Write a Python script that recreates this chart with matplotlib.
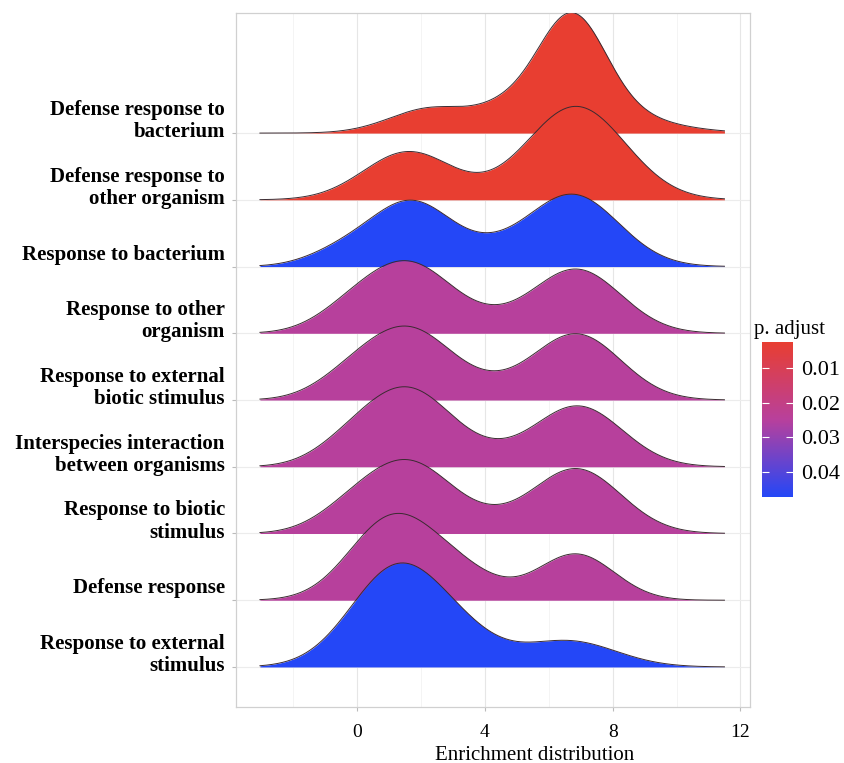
import numpy as np
import matplotlib
matplotlib.use("Agg")
from matplotlib import pyplot as plt
from matplotlib.colors import LinearSegmentedColormap, Normalize
from matplotlib.colorbar import ColorbarBase

# GO terms, top to bottom
terms = ["Defense response to\nbacterium",
         "Defense response to\nother organism",
         "Response to bacterium",
         "Response to other\norganism",
         "Response to external\nbiotic stimulus",
         "Interspecies interaction\nbetween organisms",
         "Response to biotic\nstimulus",
         "Defense response",
         "Response to external\nstimulus"]

p_adjust = [0.0025, 0.0025, 0.0472, 0.025, 0.025, 0.025, 0.025, 0.025, 0.0472]

# ridge shapes, as bumps (centre, height, width) per term
bumps = [
    [(2.3, 0.36, 1.3), (4.6, 0.18, 0.9), (6.7, 1.42, 1.05), (7.1, 0.38, 2.0)],
    [(1.6, 0.72, 1.4), (6.85, 1.40, 1.55)],
    [(-0.5, 0.20, 1.1), (1.72, 0.96, 1.3), (4.2, 0.12, 1.0), (6.73, 1.08, 1.45)],
    [(-0.3, 0.23, 1.1), (1.63, 1.03, 1.4), (4.2, 0.08, 1.0), (6.85, 0.96, 1.4)],
    [(-0.3, 0.23, 1.1), (1.63, 1.05, 1.4), (4.2, 0.08, 1.0), (6.85, 0.99, 1.4)],
    [(-0.3, 0.23, 1.1), (1.62, 1.14, 1.4), (4.2, 0.08, 1.0), (6.9, 0.91, 1.4)],
    [(-0.3, 0.23, 1.1), (1.63, 1.05, 1.4), (4.2, 0.08, 1.0), (6.85, 0.97, 1.4)],
    [(1.0, 1.14, 1.3), (3.0, 0.45, 1.3), (6.85, 0.69, 1.2)],
    [(1.25, 1.48, 1.45), (3.3, 0.30, 1.2), (6.6, 0.39, 1.5)],
]

x_ticks = [0, 4, 8, 12]
cbar_ticks = [0.01, 0.02, 0.03, 0.04]

serif = ["Liberation Serif", "DejaVu Serif"]

cmap = LinearSegmentedColormap.from_list("padj", ["#E83E31", "#B8409C", "#2447F7"])
norm = Normalize(vmin=min(p_adjust), vmax=max(p_adjust))

fig = plt.figure(figsize=(8.44, 7.63), dpi=100)
ax = fig.add_axes([0.2796, 0.0734, 0.609, 0.9096])

xs = np.linspace(-3.05, 11.5, 500)
n = len(terms)
for i in range(n):
    base = n - i
    y = np.zeros_like(xs)
    for c, h, w in bumps[i]:
        y += h * np.exp(-(xs - c) ** 2 / (2 * w ** 2))
    col = cmap(norm(p_adjust[i]))
    ax.fill_between(xs, base, base + y, color=col, lw=0, zorder=3 + i)
    ax.plot(xs, base + y, color="#3a2a30", lw=0.7, zorder=3 + i)

ax.set_xlim(-3.8, 12.3)
ax.set_ylim(0.4, 10.8)

for g in [-2, 2, 6, 10]:
    ax.axvline(g, color="#f2f2f2", lw=0.6, zorder=0)
for g in x_ticks:
    ax.axvline(g, color="#e6e6e6", lw=0.8, zorder=0)
for i in range(n):
    ax.axhline(n - i, color="#ececec", lw=0.8, zorder=0)

ax.set_xticks(x_ticks)
ax.set_xticklabels([str(t) for t in x_ticks], family=serif, fontsize=14)
ax.set_yticks([n - i for i in range(n)])
ax.set_yticklabels([])
for i in range(n):
    ax.text(-3.8 - 0.35, n - i + 0.18, terms[i], ha="right", va="center",
            family=serif, fontweight="bold", fontsize=15, linespacing=1.15)

ax.tick_params(axis="both", color="#bbbbbb", length=3, width=0.8)
ax.tick_params(axis="x", pad=9)
for s in ax.spines.values():
    s.set_color("#d0d0d0")
    s.set_linewidth(0.9)

# axis title sits a bit right of the panel centre in the original
fig.text(535 / 844, 1 - 755 / 763, "Enrichment distribution", family=serif,
         fontsize=15, ha="center", va="center")

# colour bar, small p at top
cax = fig.add_axes([762 / 844, 1 - 497 / 763, 31 / 844, 155 / 763])
cb = ColorbarBase(cax, cmap=cmap, norm=norm, orientation="vertical")
cax.invert_yaxis()
cb.set_ticks(cbar_ticks)
cb.set_ticklabels(["0.01", "0.02", "0.03", "0.04"])
cb.outline.set_visible(False)
cax.tick_params(axis="y", color="white", direction="in", length=5, width=0.8,
                left=True, right=True, labelsize=16, pad=6)
for lab in cax.get_yticklabels():
    lab.set_family(serif)
cax.set_title("p. adjust", family=serif, fontsize=15, loc="left", pad=6, x=-0.25)

fig.savefig("out.png", dpi=100)
